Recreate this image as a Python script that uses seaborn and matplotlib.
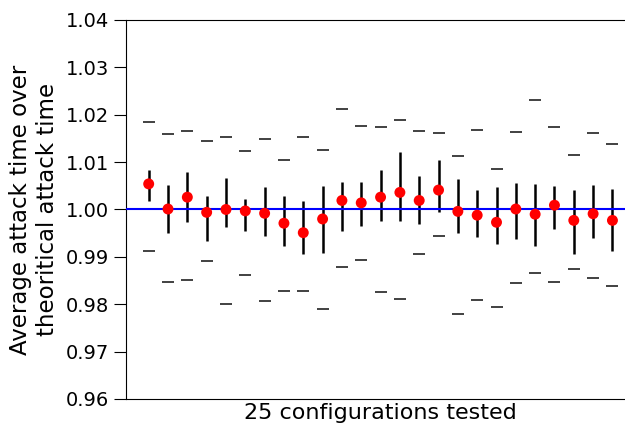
import matplotlib
matplotlib.use("Agg")
import matplotlib.pyplot as plt
import numpy as np
import pandas as pd
import seaborn as sns

# 25 configurations, ratio of measured to theoretical attack time
config_ids = list(range(1, 26))
mean_ratio = [1.0054, 1.0001, 1.0026, 0.9994, 1.0000, 0.9997, 0.9992, 0.9971, 0.9951, 0.9980,
              1.0019, 1.0014, 1.0026, 1.0036, 1.0019, 1.0041, 0.9996, 0.9988, 0.9973, 1.0001,
              0.9990, 1.0009, 0.9977, 0.9991, 0.9977]
upper_bar = [1.0084, 1.0051, 1.0080, 1.0029, 1.0067, 1.0022, 1.0047, 1.0028, 1.0017, 1.0049,
             1.0058, 1.0058, 1.0084, 1.0121, 1.0071, 1.0104, 1.0064, 1.0041, 1.0047, 1.0055,
             1.0053, 1.0050, 1.0041, 1.0052, 1.0043]
lower_bar = [1.0018, 0.9950, 0.9973, 0.9934, 0.9962, 0.9955, 0.9943, 0.9923, 0.9905, 0.9909,
             0.9954, 0.9965, 0.9976, 0.9976, 0.9969, 0.9994, 0.9950, 0.9941, 0.9927, 0.9937,
             0.9923, 0.9959, 0.9905, 0.9939, 0.9913]
max_ratio = [1.0185, 1.0160, 1.0166, 1.0144, 1.0153, 1.0123, 1.0149, 1.0105, 1.0153, 1.0125,
             1.0212, 1.0177, 1.0174, 1.0188, 1.0166, 1.0162, 1.0112, 1.0168, 1.0085, 1.0164,
             1.0231, 1.0174, 1.0114, 1.0162, 1.0138]
min_ratio = [0.9913, 0.9846, 0.9852, 0.9891, 0.9801, 0.9861, 0.9807, 0.9827, 0.9828, 0.9789,
             0.9878, 0.9893, 0.9826, 0.9811, 0.9905, 0.9945, 0.9780, 0.9809, 0.9795, 0.9845,
             0.9865, 0.9847, 0.9875, 0.9856, 0.9839]
y_ticks = [0.96, 0.97, 0.98, 0.99, 1.00, 1.01, 1.02, 1.03, 1.04]

df = pd.DataFrame({"config": config_ids, "mean": mean_ratio, "hi": upper_bar,
                   "lo": lower_bar, "max": max_ratio, "min": min_ratio})

sns.set_style("white")
plt.rcParams['font.family'] = ['DejaVu Sans']
plt.rcParams['text.color'] = 'black'
plt.rcParams['axes.labelcolor'] = 'black'
plt.rcParams['ytick.color'] = 'black'

fig = plt.figure(figsize=(6.25, 4.25), dpi=100)
ax = fig.add_axes([0.2008, 0.0612, 0.8162, 0.8918])

# error bars (asymmetric)
yerr = np.array([df["mean"] - df["lo"], df["hi"] - df["mean"]])
ax.errorbar(df["config"], df["mean"], yerr=yerr, fmt="none", ecolor="black",
            elinewidth=1.8, capsize=0, zorder=2)

ax.axhline(1.0, color="blue", linewidth=1.5, zorder=3)

# min / max as small dashes
sns.scatterplot(data=df, x="config", y="max", marker="_", color="#333333",
                s=70, linewidth=1.3, ax=ax, zorder=2)
sns.scatterplot(data=df, x="config", y="min", marker="_", color="#333333",
                s=70, linewidth=1.3, ax=ax, zorder=2)

# means
sns.scatterplot(data=df, x="config", y="mean", color="red", s=62,
                edgecolor="none", ax=ax, zorder=4)

ax.set_xlim(-0.2, 26.2)
ax.set_ylim(0.96, 1.04)
ax.set_yticks(y_ticks)
ax.set_yticklabels([f"{v:.2f}" for v in y_ticks], fontsize=14)
ax.set_xticks([])
ax.tick_params(axis="y", left=True, length=8.5, width=0.8, color="black", labelcolor="black")
for s in ax.spines.values():
    s.set_color("black")
    s.set_linewidth(0.8)

ax.set_xlabel("25 configurations tested", fontsize=16, labelpad=3)
ax.set_ylabel("Average attack time over\ntheoritical attack time", fontsize=16.5, labelpad=5)

fig.savefig("out.png", dpi=100)
